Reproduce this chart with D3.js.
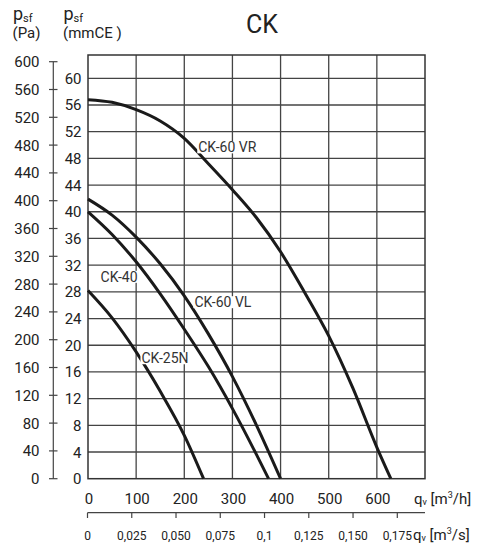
<!DOCTYPE html>
<html>
<head>
<meta charset="utf-8">
<script src="https://cdn.jsdelivr.net/npm/d3@7"></script>
<style>
  body { margin: 0; background: #fff; }
  svg text { font-family: Roboto, "Noto Sans", sans-serif; fill: #222; }
</style>
</head>
<body>
<div id="chartdiv"></div>
<script>
//fan curve chart CK, pressure vs flow

//axis ticks
var flowTicks = [0, 100, 200, 300, 400, 500, 600];            //m3/h
var flowSecTicks = [0, 0.025, 0.05, 0.075, 0.1, 0.125, 0.15, 0.175]; //m3/s
var flowSecLabels = ["0", "0,025", "0,050", "0,075", "0,1", "0,125", "0,150", "0,175"];
var paTicks = [0, 40, 80, 120, 160, 200, 240, 280, 320, 360, 400, 440, 480, 520, 560, 600];
var mmTicks = [0, 4, 8, 12, 16, 20, 24, 28, 32, 36, 40, 44, 48, 52, 56, 60];

//curve names
var curveNames = ["CK-60 VR", "CK-60 VL", "CK-40", "CK-25N"];

//flow (m3/h) and pressure (mmCE)
var ck60vrFlow = [0, 50, 100, 150, 200, 250, 300, 350, 400, 450, 500, 550, 600, 629];
var ck60vrPress = [56.8, 56.4, 55.3, 53.6, 51.0, 47.2, 43.3, 39.1, 34.0, 27.9, 21.4, 13.6, 4.7, 0];

var ck60vlFlow = [0, 50, 100, 150, 200, 250, 300, 350, 400];
var ck60vlPress = [41.9, 39.5, 36.2, 32.2, 27.4, 21.7, 15.3, 8.0, 0];

var ck40Flow = [0, 50, 100, 150, 200, 250, 300, 350, 375];
var ck40Press = [40.0, 36.6, 32.5, 27.7, 22.4, 16.8, 10.5, 3.6, 0];

var ck25nFlow = [0, 50, 100, 150, 200, 240];
var ck25nPress = [28.2, 24.1, 19.0, 13.1, 6.5, 0];

//where the curve names sit, in flow / mmCE units
var labelFlow = [229, 221, 26, 111];
var labelPress = [48.9, 25.7, 29.5, 17.3];

window.onload = setChart();

function setChart(){
    var width = 479, height = 548;

    var svg = d3.select("#chartdiv")
        .append("svg")
        .attr("width", width)
        .attr("height", height);

    //scales
    var x = d3.scaleLinear().domain([0, 700]).range([88, 425]);
    var xSec = d3.scaleLinear().domain([0, 0.175]).range([87.5, 397.3]);
    var yMm = d3.scaleLinear().domain([0, 60]).range([478.7, 78.3]);
    var yPa = d3.scaleLinear().domain([0, 600]).range([478.7, 61.7]);
    var plotTop = 55;

    //grid
    var grid = svg.append("g")
        .attr("stroke", "#444")
        .attr("stroke-width", 1.3);

    grid.selectAll(".hline")
        .data(mmTicks.slice(1))
        .enter()
        .append("line")
        .attr("class", "hline")
        .attr("x1", x(0))
        .attr("x2", x(700))
        .attr("y1", function(d){ return yMm(d); })
        .attr("y2", function(d){ return yMm(d); });

    grid.selectAll(".vline")
        .data(flowTicks.slice(1))
        .enter()
        .append("line")
        .attr("class", "vline")
        .attr("x1", function(d){ return x(d); })
        .attr("x2", function(d){ return x(d); })
        .attr("y1", plotTop)
        .attr("y2", yMm(0));

    //frame
    svg.append("rect")
        .attr("x", x(0))
        .attr("y", plotTop)
        .attr("width", x(700) - x(0))
        .attr("height", yMm(0) - plotTop)
        .attr("fill", "none")
        .attr("stroke", "#333")
        .attr("stroke-width", 1.5);

    //curves
    var curves = [
        d3.zip(ck60vrFlow, ck60vrPress),
        d3.zip(ck60vlFlow, ck60vlPress),
        d3.zip(ck40Flow, ck40Press),
        d3.zip(ck25nFlow, ck25nPress)
    ];
    var line = d3.line()
        .x(function(d){ return x(d[0]); })
        .y(function(d){ return yMm(d[1]); })
        .curve(d3.curveMonotoneX);

    svg.append("g").selectAll("path")
        .data(curves)
        .enter()
        .append("path")
        .attr("d", line)
        .attr("fill", "none")
        .attr("stroke", "#1a1a1a")
        .attr("stroke-width", 3);

    //curve names with a white box behind
    curveNames.forEach(function(name, i){
        var g = svg.append("g");
        var bg = g.append("rect").attr("fill", "#fff");
        var t = g.append("text")
            .attr("x", x(labelFlow[i]))
            .attr("y", yMm(labelPress[i]))
            .style("font-size", "14px")
            .style("fill", "#333")
            .text(name);
        var bb = t.node().getBBox();
        bg.attr("x", bb.x - 1).attr("y", bb.y + 2)
            .attr("width", bb.width + 2).attr("height", bb.height - 4);
    });

    //Pa axis
    var paAxis = svg.append("g")
        .attr("stroke", "#444")
        .attr("stroke-width", 1.2);
    paAxis.append("line")
        .attr("x1", 53.3).attr("x2", 53.3)
        .attr("y1", yPa(600)).attr("y2", yPa(0));
    paAxis.selectAll(".tick")
        .data(paTicks)
        .enter()
        .append("line")
        .attr("class", "tick")
        .attr("x1", 49).attr("x2", 57.5)
        .attr("y1", function(d){ return yPa(d); })
        .attr("y2", function(d){ return yPa(d); });
    svg.append("g").selectAll("text")
        .data(paTicks)
        .enter()
        .append("text")
        .attr("x", 39.5)
        .attr("y", function(d){ return yPa(d) + 5.5; })
        .attr("text-anchor", "end")
        .style("font-size", "15px")
        .text(function(d){ return d; });

    //mmCE labels
    svg.append("g").selectAll("text")
        .data(mmTicks)
        .enter()
        .append("text")
        .attr("x", 81.5)
        .attr("y", function(d){ return yMm(d) + 5.5; })
        .attr("text-anchor", "end")
        .style("font-size", "15px")
        .text(function(d){ return d; });

    //m3/h labels
    svg.append("g").selectAll("text")
        .data(flowTicks)
        .enter()
        .append("text")
        .attr("x", function(d){ return x(d) + 1; })
        .attr("y", 504)
        .attr("text-anchor", "middle")
        .style("font-size", "15px")
        .text(function(d){ return d; });

    //m3/s axis
    var secAxis = svg.append("g")
        .attr("stroke", "#444")
        .attr("stroke-width", 1.2);
    secAxis.append("line")
        .attr("x1", xSec(0)).attr("x2", x(700))
        .attr("y1", 512.7).attr("y2", 512.7);
    secAxis.selectAll(".tick")
        .data(flowSecTicks)
        .enter()
        .append("line")
        .attr("class", "tick")
        .attr("x1", function(d){ return xSec(d); })
        .attr("x2", function(d){ return xSec(d); })
        .attr("y1", 512.7).attr("y2", 518);
    svg.append("g").selectAll("text")
        .data(flowSecTicks)
        .enter()
        .append("text")
        .attr("x", function(d){ return xSec(d); })
        .attr("y", 540)
        .attr("text-anchor", "middle")
        .style("font-size", "12px")
        .text(function(d, i){ return flowSecLabels[i]; });

    //unit labels q_v
    unitLabel(svg, 414, 504, "h");
    unitLabel(svg, 413, 540, "s");

    //header p_sf
    header(svg, 13, "(Pa)");
    header(svg, 63.5, "(mmCE )");

    //title
    svg.append("text")
        .attr("x", 262).attr("y", 33)
        .attr("text-anchor", "middle")
        .style("font-size", "25px")
        .text("CK");
};

function unitLabel(svg, x0, y0, per){
    var t = svg.append("text")
        .attr("x", x0).attr("y", y0)
        .style("font-size", "15px");
    t.append("tspan").text("q");
    t.append("tspan").attr("dy", 1).style("font-size", "9px").text("v");
    t.append("tspan").attr("dy", -1).text(" [m");
    t.append("tspan").attr("dy", -6).style("font-size", "9px").text("3");
    t.append("tspan").attr("dy", 6).text("/" + per + "]");
};

function header(svg, x0, unit){
    var t = svg.append("text")
        .attr("x", x0).attr("y", 19.5)
        .style("font-size", "18px");
    t.append("tspan").text("p");
    t.append("tspan").attr("dy", 2).style("font-size", "11px").text("sf");
    svg.append("text")
        .attr("x", x0 - 0.5).attr("y", 38)
        .style("font-size", "15px")
        .text(unit);
};
</script>
</body>
</html>
